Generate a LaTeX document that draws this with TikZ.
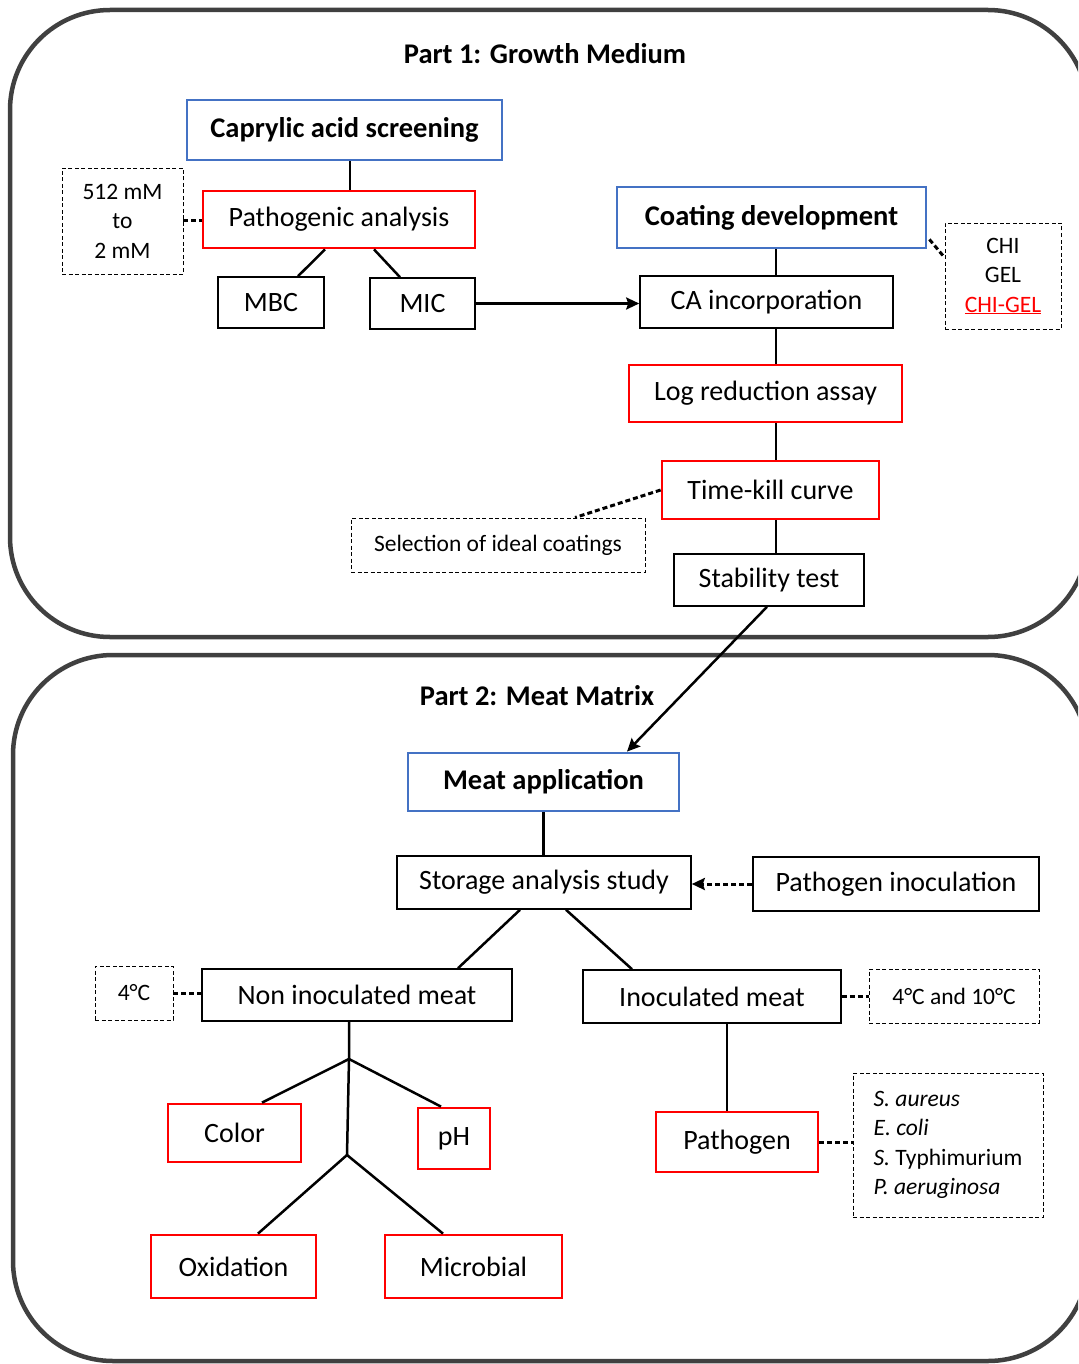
\documentclass[tikz,border=0pt]{standalone}
\usepackage{fontspec}
\setmainfont{Carlito}
\usepackage{xcolor}
\usepackage{tikz}
\usetikzlibrary{arrows.meta, positioning, calc}
\definecolor{stepred}{RGB}{255, 0, 0}
\definecolor{stepblue}{RGB}{68, 114, 196}
\definecolor{framegrey}{RGB}{64, 64, 64}

\begin{document}
\begin{tikzpicture}[x=1pt, y=-1pt,
  every node/.style={font=\fontsize{28}{34}\selectfont, inner sep=0pt, align=center},
  heading/.style={font=\fontsize{28.5}{34}\selectfont\bfseries},
  plainbox/.style={draw=black, line width=1.6pt},
  redbox/.style={draw=stepred, line width=2.8pt},
  bluebox/.style={draw=stepblue, line width=2.8pt, font=\fontsize{28.5}{34}\selectfont\bfseries},
  notebox/.style={draw=black, line width=0.9pt, dash pattern=on 4pt off 2.5pt, font=\fontsize{23.5}{29.5}\selectfont},
  dims/.style 2 args={minimum width=#1, minimum height=#2},
  link/.style={line width=2.5pt},
  dotlink/.style={line width=3pt, dash pattern=on 5pt off 3pt},
  arrowtip/.style={-{Stealth[length=13pt, width=12pt, inset=2pt]}},
  frame/.style={draw=framegrey, line width=4.5pt, rounded corners=100pt}
]
  \useasboundingbox (0,0) rectangle (1078,1364);
  \clip (0,0) rectangle (1078,1364);
  \draw[frame] (10,10) rectangle (1088,637);
  \draw[frame] (13,655) rectangle (1088,1361);

  % Part 1
  \node[heading] (title1) at (545,54) {Part 1: Growth Medium};
  \node[bluebox, dims={315}{60}] (screen) at (344.5,130) {Caprylic acid screening};
  \node[redbox, dims={272}{57}] (patho) at (339,219.5) {Pathogenic analysis};
  \node[notebox, dims={121}{106}] (conc) at (122.5,221) {512 mM\\to\\2 mM};
  \node[plainbox, dims={106}{51}] (mbc) at (271,302.5) {MBC};
  \node[plainbox, dims={105}{51}] (mic) at (422.5,303.5) {MIC};
  \node[bluebox, dims={309}{61}] (coat) at (771.5,217.5) {Coating development};
  \node[notebox, dims={116}{106}] (poly) at (1003,276) {CHI\\GEL\\\textcolor{stepred}{\underline{CHI-GEL}}};
  \node[plainbox, dims={253}{52}] (caincorp) at (766.5,302) {CA incorporation};
  \node[redbox, dims={273}{57}] (logred) at (765.5,393.5) {Log reduction assay};
  \node[redbox, dims={217}{58}] (timekill) at (770.5,490) {Time-kill curve};
  \node[notebox, dims={294}{54}] (select) at (498,545) {Selection of ideal coatings};
  \node[plainbox, dims={190}{52}] (stab) at (769,580) {Stability test};
  \coordinate (trunk1) at (350,0);
  \coordinate (spine) at (776,0);

  \draw[link] (screen.south -| trunk1) -- (patho.north -| trunk1);
  \draw[dotlink] (conc.east) -- (conc.east -| patho.west);
  \draw[link] ($(patho.south)+(-14,0)$) -- ($(mbc.north)+(27,0)$);
  \draw[link] ($(patho.south)+(35,0)$) -- ($(mic.north)+(-22.5,0)$);
  \draw[link, arrowtip] (mic.east) -- (mic.east -| caincorp.west);
  \draw[dotlink] ($(coat.south east)+(2,-10)$) -- ($(poly.north west)+(0,35)$);
  \draw[link] (coat.south -| spine) -- (caincorp.north -| spine);
  \draw[link] (caincorp.south -| spine) -- (logred.north -| spine);
  \draw[link] (logred.south -| spine) -- (timekill.north -| spine);
  \draw[link] (timekill.south -| spine) -- (stab.north -| spine);
  \draw[dotlink] (timekill.west) -- ($(select.north)+(77,0)$);

  % Part 2
  \node[heading] (title2) at (537,696) {Part 2: Meat Matrix};
  \node[bluebox, dims={271}{58}] (meat) at (543.5,782) {Meat application};
  \node[plainbox, dims={294}{53}] (storage) at (544,882.5) {Storage analysis study};
  \node[plainbox, dims={286}{54}] (inoc) at (896,884) {Pathogen inoculation};
  \node[plainbox, dims={310}{52}] (noninoc) at (357,995) {Non inoculated meat};
  \node[notebox, dims={78}{54}] (cold) at (134,993) {4°C};
  \node[plainbox, dims={258}{53}] (inocmeat) at (712,996.5) {Inoculated meat};
  \node[notebox, dims={170}{54}] (coldwarm) at (954,996) {4°C and 10°C};
  \node[redbox, dims={133}{58}] (color) at (234.5,1133) {Color};
  \node[redbox, dims={72}{61}] (ph) at (454,1138.5) {pH};
  \node[redbox, dims={165}{63}] (oxid) at (233.5,1266.5) {Oxidation};
  \node[redbox, dims={177}{63}] (micro) at (473.5,1266.5) {Microbial};
  \node[redbox, dims={162}{60}] (pathogen) at (737,1142) {Pathogen};
  \node[notebox, dims={190}{144}, align=left] (species) at (948,1145)
    {\textit{S. aureus}\\\textit{E. coli}\\\textit{S.} Typhimurium\\\textit{P. aeruginosa}};
  \coordinate (fork1) at (349,1059);
  \coordinate (fork2) at (347,1155);
  \coordinate (trunk3) at (727,0);

  \draw[link, arrowtip] ($(stab.south)+(-2,0)$) -- ($(meat.north)+(83.5,0)$);
  \draw[link] (meat.south) -- (meat.south |- storage.north);
  \draw[dotlink, arrowtip] (inoc.west) -- (inoc.west -| storage.east);
  \draw[link] ($(storage.south)+(-24,0)$) -- ($(noninoc.north)+(101,0)$);
  \draw[link] ($(storage.south)+(22,0)$) -- ($(inocmeat.north)+(-80,0)$);
  \draw[dotlink] (cold.east) -- (cold.east -| noninoc.west);
  \draw[dotlink] (inocmeat.east) -- (inocmeat.east -| coldwarm.west);
  \draw[link] (noninoc.south -| fork1) -- (fork1) -- (fork2);
  \draw[link] (fork1) -- ($(color.north)+(27.5,0)$);
  \draw[link] (fork1) -- ($(ph.north)+(-13,0)$);
  \draw[link] (fork2) -- ($(oxid.north)+(24.5,0)$);
  \draw[link] (fork2) -- ($(micro.north)+(-30.5,0)$);
  \draw[link] (inocmeat.south -| trunk3) -- (pathogen.north -| trunk3);
  \draw[dotlink] (pathogen.east) -- (pathogen.east -| species.west);
\end{tikzpicture}
\end{document}
